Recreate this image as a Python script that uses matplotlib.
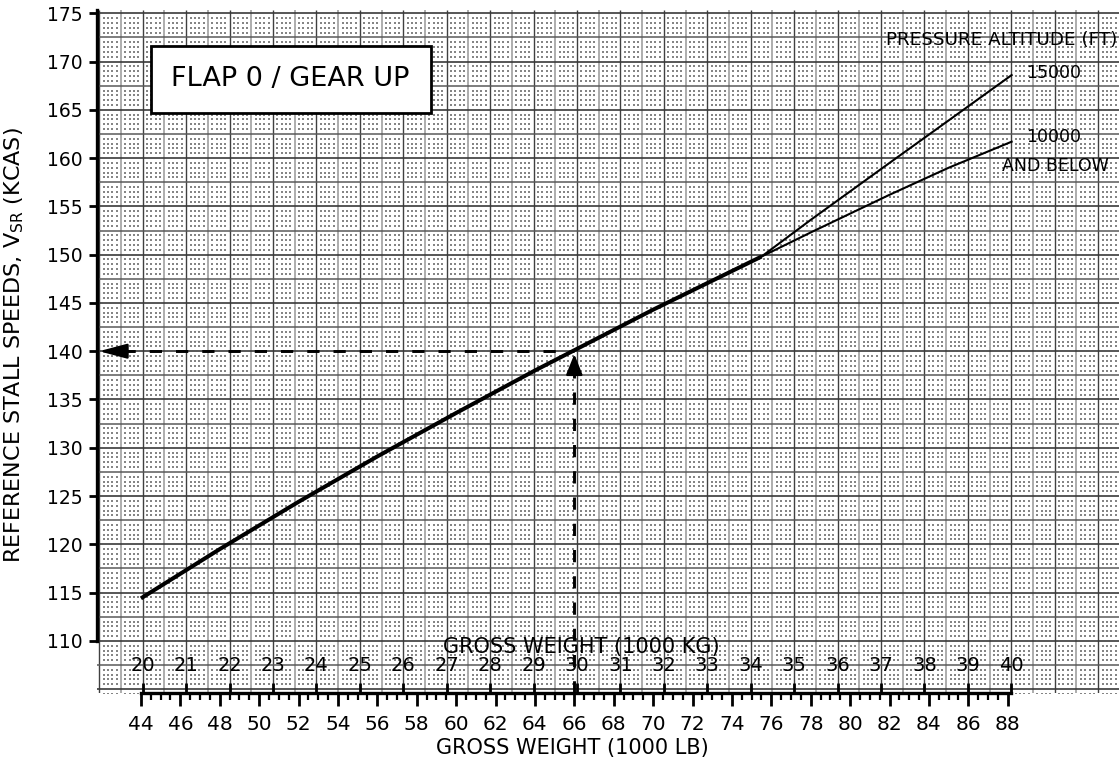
import numpy as np
import matplotlib
matplotlib.use("Agg")
import matplotlib.pyplot as plt
from matplotlib.patches import Rectangle
from matplotlib.ticker import FixedLocator

LB_PER_KG = 2.20462

# Gross weight (1000 LB) vs reference stall speed (KCAS)
weight_common = [44, 48, 52, 56, 60, 64, 66, 70, 75.5]
speed_common = [114.4, 119.5, 124.4, 129.1, 133.6, 138.0, 140.1, 144.3, 149.8]
weight_10000 = [75.5, 78, 82, 85, 88.2]
speed_10000 = [149.8, 152.3, 156.2, 159.0, 161.7]
weight_15000 = [75.5, 78, 82, 85, 88.2]
speed_15000 = [149.8, 153.6, 159.5, 163.9, 168.6]

# Worked example: 66 000 LB -> 140 KCAS
example_weight = 66
example_speed = 140

lb_ticks = list(range(44, 89, 2))
kg_ticks = list(range(20, 41))
speed_ticks = list(range(110, 176, 5))

plt.rcParams['font.family'] = ['DejaVu Sans']

W, H = 1119, 764
fig = plt.figure(figsize=(W / 100, H / 100), dpi=100)
ax = fig.add_axes([97 / W, (H - 693) / H, (W - 97) / W, (693 - 10) / H])
x_lo, x_hi = 41.77, 93.65
y_lo, y_hi = 104.6, 175.34
ax.set_xlim(x_lo, x_hi)
ax.set_ylim(y_lo, y_hi)

# ---- chart paper: dotted fine grid, half-kg / 2.5 kt lines ----
kg_fine = np.round(np.arange(18.5, 43.01, 0.1), 1)
kt_fine = np.round(np.arange(104.0, 176.01, 0.5), 1)
kg_dot = kg_fine[np.round(kg_fine * 10).astype(int) % 5 != 0]
kt_dot = kt_fine[np.round(kt_fine * 2).astype(int) % 5 != 0]
gx, gy = np.meshgrid(kg_dot * LB_PER_KG, kt_dot)
ax.scatter(gx.ravel(), gy.ravel(), s=1.3, marker='s', c='#858585',
           linewidths=0, zorder=0.5, rasterized=True)

kg_half = np.round(np.arange(18.5, 43.01, 0.5), 1)
minor_v = [k * LB_PER_KG for k in kg_half if k % 1 != 0]
major_v = [k * LB_PER_KG for k in kg_half if k % 1 == 0]
ax.vlines(minor_v, 0, 1, transform=ax.get_xaxis_transform(),
          colors='#a0a0a0', linewidth=1.2, zorder=1)
ax.vlines(major_v, 0, 1, transform=ax.get_xaxis_transform(),
          colors='#404040', linewidth=1.0, zorder=1.1)
kt_lines = np.arange(105.0, 176.0, 2.5)
ax.hlines([v for v in kt_lines if v % 5 != 0], 0, 1,
          transform=ax.get_yaxis_transform(), colors='#5a5a5a',
          linewidth=1.1, zorder=1.2)
ax.hlines([v for v in kt_lines if v % 5 == 0], 0, 1,
          transform=ax.get_yaxis_transform(), colors='#3a3a3a',
          linewidth=1.2, zorder=1.2)

# ---- stall speed curves ----
ax.plot(weight_common, speed_common, color='black', lw=2.9,
        solid_capstyle='butt', zorder=5)
ax.plot(weight_10000, speed_10000, color='black', lw=1.5, zorder=5)
ax.plot(weight_15000, speed_15000, color='black', lw=1.5, zorder=5)

# ---- worked example with dashed guide lines ----
dash = dict(color='black', lw=2.1, dashes=(4.2, 4.8), zorder=4)
ax.plot([43.1, example_weight], [example_speed, example_speed], **dash)
ax.plot([example_weight, example_weight], [y_lo, 137.8], **dash)
ax.annotate('', xy=(41.87, example_speed), xytext=(43.3, example_speed),
            arrowprops=dict(arrowstyle='-|>,head_length=1.7,head_width=0.45',
                            color='black', lw=1.8, shrinkA=0, shrinkB=0),
            zorder=6)
ax.annotate('', xy=(example_weight, 139.7), xytext=(example_weight, 137.6),
            arrowprops=dict(arrowstyle='-|>,head_length=1.25,head_width=0.5',
                            color='black', lw=1.8, shrinkA=0, shrinkB=0),
            zorder=6)

# ---- axes, ticks ----
for side in ('top', 'right'):
    ax.spines[side].set_visible(False)
ax.spines['left'].set_linewidth(2.4)
ax.spines['left'].set_bounds(110, y_hi)
ax.spines['bottom'].set_linewidth(2.4)
ax.spines['bottom'].set_bounds(44, 40 * LB_PER_KG)
for sp in ax.spines.values():
    sp.set_zorder(7)

ax.yaxis.set_major_locator(FixedLocator(speed_ticks))
ax.set_yticklabels([str(v) for v in speed_ticks])
ax.tick_params(axis='y', direction='out', length=6, width=2, pad=4,
               labelsize=13.5)

ax.xaxis.set_major_locator(FixedLocator(lb_ticks))
ax.set_xticklabels([str(v) for v in lb_ticks])
ax.xaxis.set_minor_locator(FixedLocator(
    [w / 2 for w in range(88, 177) if w % 4 != 0]))
ax.tick_params(axis='x', which='major', direction='out', length=9, width=2,
               pad=7, labelsize=14.5)
ax.tick_params(axis='x', which='minor', direction='out', length=5, width=1.6)

# kilogram scale inside the bottom band
for kg in kg_ticks:
    ax.plot([kg * LB_PER_KG] * 2, [y_lo, y_lo + 1.05], color='black',
            lw=2.0, solid_capstyle='butt', zorder=6, clip_on=False)
    ax.text(kg * LB_PER_KG, 107.42, str(kg), ha='center', va='center',
            fontsize=14, zorder=6)
ax.text(66.33, 109.35, 'GROSS WEIGHT (1000 KG)', ha='center', va='center',
        fontsize=15, zorder=6)

fig.text(572 / W, 1 - 748 / H, 'GROSS WEIGHT (1000 LB)', ha='center',
         va='center', fontsize=15)
ax.set_ylabel(r'REFERENCE STALL SPEEDS, V$_{\mathregular{SR}}$ (KCAS)',
              fontsize=16)
ax.yaxis.set_label_coords(-0.069, 0.51)

# ---- labels ----
ax.add_patch(Rectangle((44.49, 164.7), 14.21, 6.9, facecolor='white',
                       edgecolor='black', lw=2.0, zorder=8))
ax.text(51.6, 168.15, 'FLAP 0 / GEAR UP', ha='center', va='center',
        fontsize=19.5, zorder=9)

ax.text(93.55, 172.2, 'PRESSURE ALTITUDE (FT)', ha='right', va='center',
        fontsize=13.2, zorder=9)
ax.text(88.95, 168.8, '15000', ha='left', va='center', fontsize=12.5, zorder=9)
ax.text(88.95, 162.2, '10000', ha='left', va='center', fontsize=12.5, zorder=9)
ax.text(87.7, 159.2, 'AND BELOW', ha='left', va='center', fontsize=12.5,
        zorder=9)

fig.savefig('out.png', dpi=100)
